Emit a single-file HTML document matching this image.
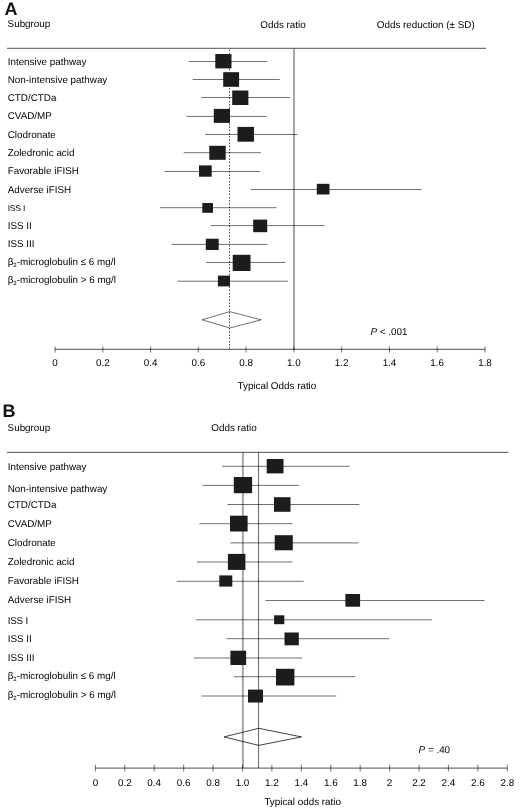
<!DOCTYPE html>
<html><head><meta charset="utf-8"><style>
html,body{margin:0;padding:0;background:#fff;}
svg{display:block;}
.t{}
svg{will-change:transform;}
text{font-family:"Liberation Sans",sans-serif;fill:#000;text-rendering:geometricPrecision;}
</style></head><body>
<svg width="520" height="812" viewBox="0 0 520 812">
<rect width="520" height="812" fill="#fff"/>
<g class="t">
<text x="4.6" y="14.7" font-size="18" font-weight="bold" style="fill:#111">A</text>
<text x="7.6" y="27.3" font-size="9.85">Subgroup</text>
<text x="260.3" y="27.9" font-size="9.85">Odds ratio</text>
<text x="376.8" y="28.0" font-size="9.85">Odds reduction (± SD)</text>
<line x1="7" y1="48.4" x2="486" y2="48.4" stroke="#000" stroke-opacity="0.545" stroke-width="1.2"/>
<text x="7.7" y="64.7" font-size="9.85">Intensive pathway</text>
<line x1="188.8" y1="61.5" x2="267.3" y2="61.5" stroke="#000" stroke-opacity="0.56" stroke-width="1"/>
<text x="7.7" y="82.9" font-size="9.85">Non-intensive pathway</text>
<line x1="192.7" y1="79.5" x2="279.8" y2="79.5" stroke="#000" stroke-opacity="0.56" stroke-width="1"/>
<text x="7.7" y="101.10000000000001" font-size="9.85">CTD/CTDa</text>
<line x1="201.2" y1="97.5" x2="289.7" y2="97.5" stroke="#000" stroke-opacity="0.56" stroke-width="1"/>
<text x="7.7" y="119.3" font-size="9.85">CVAD/MP</text>
<line x1="186.4" y1="116.4" x2="266.9" y2="116.4" stroke="#000" stroke-opacity="0.56" stroke-width="1"/>
<text x="7.7" y="137.5" font-size="9.85">Clodronate</text>
<line x1="205.2" y1="134.5" x2="297.5" y2="134.5" stroke="#000" stroke-opacity="0.56" stroke-width="1"/>
<text x="7.7" y="155.7" font-size="9.85">Zoledronic acid</text>
<line x1="183.7" y1="152.7" x2="261.0" y2="152.7" stroke="#000" stroke-opacity="0.56" stroke-width="1"/>
<text x="7.7" y="173.89999999999998" font-size="9.85">Favorable iFISH</text>
<line x1="164.8" y1="171.5" x2="260.2" y2="171.5" stroke="#000" stroke-opacity="0.56" stroke-width="1"/>
<text x="7.7" y="192.79999999999998" font-size="9.85">Adverse iFISH</text>
<line x1="250.8" y1="189.5" x2="421.7" y2="189.5" stroke="#000" stroke-opacity="0.56" stroke-width="1"/>
<text x="7.7" y="211.3" font-size="8.5" letter-spacing="-0.2">ISS I</text>
<line x1="160.0" y1="207.7" x2="276.4" y2="207.7" stroke="#000" stroke-opacity="0.56" stroke-width="1"/>
<text x="7.7" y="228.7" font-size="9.85">ISS II</text>
<line x1="210.6" y1="225.6" x2="324.6" y2="225.6" stroke="#000" stroke-opacity="0.56" stroke-width="1"/>
<text x="7.7" y="246.89999999999998" font-size="9.85">ISS III</text>
<line x1="171.3" y1="244.4" x2="267.7" y2="244.4" stroke="#000" stroke-opacity="0.56" stroke-width="1"/>
<text x="7.7" y="264.9" font-size="9.85">β<tspan font-size="6" dy="2">2</tspan><tspan dy="-2">-microglobulin ≤ 6 mg/l</tspan></text>
<line x1="206.3" y1="262.5" x2="285.5" y2="262.5" stroke="#000" stroke-opacity="0.56" stroke-width="1"/>
<text x="7.7" y="283.09999999999997" font-size="9.85">β<tspan font-size="6" dy="2">2</tspan><tspan dy="-2">-microglobulin &gt; 6 mg/l</tspan></text>
<line x1="177.5" y1="281.2" x2="287.9" y2="281.2" stroke="#000" stroke-opacity="0.56" stroke-width="1"/>
<line x1="294" y1="48.4" x2="294" y2="349.4" stroke="#000" stroke-opacity="0.349" stroke-width="2"/>
<line x1="229.5" y1="49" x2="229.5" y2="349.4" stroke="#000" stroke-opacity="0.686" stroke-width="1" stroke-dasharray="1.6,1.6" stroke-dashoffset="2.6"/>
<rect x="215.3" y="54.0" width="16.2" height="14.4" fill="#1c1c1c"/>
<rect x="223.2" y="72.2" width="15.9" height="14.6" fill="#1c1c1c"/>
<rect x="232.2" y="90.5" width="16.2" height="14.5" fill="#1c1c1c"/>
<rect x="213.8" y="108.9" width="16.2" height="14.0" fill="#1c1c1c"/>
<rect x="237.5" y="126.9" width="16.5" height="14.8" fill="#1c1c1c"/>
<rect x="209.3" y="145.8" width="16.4" height="14.0" fill="#1c1c1c"/>
<rect x="199.0" y="165.4" width="12.7" height="11.3" fill="#1c1c1c"/>
<rect x="316.8" y="183.8" width="12.7" height="10.7" fill="#1c1c1c"/>
<rect x="202.3" y="203.0" width="10.7" height="9.8" fill="#1c1c1c"/>
<rect x="253.2" y="219.6" width="14.0" height="12.6" fill="#1c1c1c"/>
<rect x="205.8" y="238.7" width="12.9" height="11.3" fill="#1c1c1c"/>
<rect x="232.7" y="254.8" width="17.8" height="16.2" fill="#1c1c1c"/>
<rect x="217.9" y="275.6" width="12.1" height="10.8" fill="#1c1c1c"/>
<polygon points="202.2,319.8 229.7,311.6 261.1,319.8 229.7,328" fill="none" stroke="#000" stroke-opacity="0.56" stroke-width="1"/>
<text x="370.5" y="334.8" font-size="9.85"><tspan font-style="italic">P</tspan> &lt; .001</text>
<line x1="55.0" y1="349.4" x2="485.0" y2="349.4" stroke="#000" stroke-opacity="0.56" stroke-width="1.2"/>
<line x1="55.0" y1="346.4" x2="55.0" y2="352.5" stroke="#000" stroke-opacity="0.56" stroke-width="1"/>
<text x="55.0" y="366" font-size="9.85" text-anchor="middle">0</text>
<line x1="102.8" y1="346.4" x2="102.8" y2="352.5" stroke="#000" stroke-opacity="0.56" stroke-width="1"/>
<text x="102.8" y="366" font-size="9.85" text-anchor="middle">0.2</text>
<line x1="150.6" y1="346.4" x2="150.6" y2="352.5" stroke="#000" stroke-opacity="0.56" stroke-width="1"/>
<text x="150.6" y="366" font-size="9.85" text-anchor="middle">0.4</text>
<line x1="198.3" y1="346.4" x2="198.3" y2="352.5" stroke="#000" stroke-opacity="0.56" stroke-width="1"/>
<text x="198.3" y="366" font-size="9.85" text-anchor="middle">0.6</text>
<line x1="246.1" y1="346.4" x2="246.1" y2="352.5" stroke="#000" stroke-opacity="0.56" stroke-width="1"/>
<text x="246.1" y="366" font-size="9.85" text-anchor="middle">0.8</text>
<line x1="293.9" y1="346.4" x2="293.9" y2="352.5" stroke="#000" stroke-opacity="0.56" stroke-width="1"/>
<text x="293.9" y="366" font-size="9.85" text-anchor="middle">1.0</text>
<line x1="341.7" y1="346.4" x2="341.7" y2="352.5" stroke="#000" stroke-opacity="0.56" stroke-width="1"/>
<text x="341.7" y="366" font-size="9.85" text-anchor="middle">1.2</text>
<line x1="389.5" y1="346.4" x2="389.5" y2="352.5" stroke="#000" stroke-opacity="0.56" stroke-width="1"/>
<text x="389.5" y="366" font-size="9.85" text-anchor="middle">1.4</text>
<line x1="437.2" y1="346.4" x2="437.2" y2="352.5" stroke="#000" stroke-opacity="0.56" stroke-width="1"/>
<text x="437.2" y="366" font-size="9.85" text-anchor="middle">1.6</text>
<line x1="485.0" y1="346.4" x2="485.0" y2="352.5" stroke="#000" stroke-opacity="0.56" stroke-width="1"/>
<text x="485.0" y="366" font-size="9.85" text-anchor="middle">1.8</text>
<text x="237.5" y="388.8" font-size="9.85">Typical Odds ratio</text>
<text x="2.4" y="416.6" font-size="18" font-weight="bold" style="fill:#111">B</text>
<text x="7.6" y="431.0" font-size="9.85">Subgroup</text>
<text x="211.3" y="431.3" font-size="9.85">Odds ratio</text>
<line x1="7" y1="452.3" x2="508.5" y2="452.3" stroke="#000" stroke-opacity="0.545" stroke-width="1.2"/>
<text x="7.7" y="469.7" font-size="9.85">Intensive pathway</text>
<line x1="222.2" y1="466.3" x2="349.7" y2="466.3" stroke="#000" stroke-opacity="0.56" stroke-width="1"/>
<text x="7.7" y="491.7" font-size="9.85">Non-intensive pathway</text>
<line x1="202.6" y1="485.4" x2="298.8" y2="485.4" stroke="#000" stroke-opacity="0.56" stroke-width="1"/>
<text x="7.7" y="507.95" font-size="9.85">CTD/CTDa</text>
<line x1="227.4" y1="504.5" x2="359.5" y2="504.5" stroke="#000" stroke-opacity="0.56" stroke-width="1"/>
<text x="7.7" y="527.2" font-size="9.85">CVAD/MP</text>
<line x1="199.4" y1="523.7" x2="292.7" y2="523.7" stroke="#000" stroke-opacity="0.56" stroke-width="1"/>
<text x="7.7" y="546.2" font-size="9.85">Clodronate</text>
<line x1="230.4" y1="542.9" x2="358.5" y2="542.9" stroke="#000" stroke-opacity="0.56" stroke-width="1"/>
<text x="7.7" y="565.2" font-size="9.85">Zoledronic acid</text>
<line x1="196.9" y1="562.0" x2="292.5" y2="562.0" stroke="#000" stroke-opacity="0.56" stroke-width="1"/>
<text x="7.7" y="584.2" font-size="9.85">Favorable iFISH</text>
<line x1="176.6" y1="581.3" x2="303.7" y2="581.3" stroke="#000" stroke-opacity="0.56" stroke-width="1"/>
<text x="7.7" y="603.45" font-size="9.85">Adverse iFISH</text>
<line x1="265.5" y1="600.5" x2="484.5" y2="600.5" stroke="#000" stroke-opacity="0.56" stroke-width="1"/>
<text x="7.7" y="623.8000000000001" font-size="9.85" letter-spacing="-0.2">ISS I</text>
<line x1="195.8" y1="619.8" x2="432.0" y2="619.8" stroke="#000" stroke-opacity="0.56" stroke-width="1"/>
<text x="7.7" y="642.3000000000001" font-size="9.85">ISS II</text>
<line x1="226.5" y1="638.7" x2="389.2" y2="638.7" stroke="#000" stroke-opacity="0.56" stroke-width="1"/>
<text x="7.7" y="660.95" font-size="9.85">ISS III</text>
<line x1="193.8" y1="658.0" x2="302.2" y2="658.0" stroke="#000" stroke-opacity="0.56" stroke-width="1"/>
<text x="7.7" y="679.2" font-size="9.85">β<tspan font-size="6" dy="2">2</tspan><tspan dy="-2">-microglobulin ≤ 6 mg/l</tspan></text>
<line x1="233.8" y1="676.7" x2="355.3" y2="676.7" stroke="#000" stroke-opacity="0.56" stroke-width="1"/>
<text x="7.7" y="698.2" font-size="9.85">β<tspan font-size="6" dy="2">2</tspan><tspan dy="-2">-microglobulin &gt; 6 mg/l</tspan></text>
<line x1="201.5" y1="696.0" x2="336.2" y2="696.0" stroke="#000" stroke-opacity="0.56" stroke-width="1"/>
<line x1="242.9" y1="452.3" x2="242.9" y2="768.1" stroke="#000" stroke-opacity="0.349" stroke-width="2"/>
<line x1="258.5" y1="452.3" x2="258.5" y2="768.1" stroke="#000" stroke-opacity="0.561" stroke-width="1.1"/>
<rect x="266.7" y="459.0" width="16.8" height="14.4" fill="#1c1c1c"/>
<rect x="233.8" y="477.0" width="18.3" height="16.2" fill="#1c1c1c"/>
<rect x="274.0" y="497.2" width="16.5" height="14.6" fill="#1c1c1c"/>
<rect x="230.0" y="515.7" width="17.6" height="15.8" fill="#1c1c1c"/>
<rect x="274.7" y="535.2" width="18.1" height="15.1" fill="#1c1c1c"/>
<rect x="227.9" y="553.9" width="17.5" height="16.0" fill="#1c1c1c"/>
<rect x="219.3" y="575.4" width="13.0" height="11.2" fill="#1c1c1c"/>
<rect x="345.4" y="594.0" width="14.7" height="12.7" fill="#1c1c1c"/>
<rect x="274.1" y="615.3" width="10.2" height="8.9" fill="#1c1c1c"/>
<rect x="284.5" y="632.5" width="14.3" height="12.8" fill="#1c1c1c"/>
<rect x="230.4" y="650.7" width="15.7" height="14.3" fill="#1c1c1c"/>
<rect x="276.0" y="668.8" width="18.4" height="16.7" fill="#1c1c1c"/>
<rect x="248.0" y="689.6" width="15.0" height="12.9" fill="#1c1c1c"/>
<polygon points="224.1,736.9 258.7,728.3 301.5,736.9 258.7,745.4" fill="none" stroke="#000" stroke-opacity="0.733" stroke-width="1"/>
<text x="418.6" y="752.7" font-size="9.85"><tspan font-style="italic">P</tspan> = .40</text>
<line x1="95.4" y1="768.1" x2="507.3" y2="768.1" stroke="#000" stroke-opacity="0.56" stroke-width="1.2"/>
<line x1="95.4" y1="764.8" x2="95.4" y2="771.4" stroke="#000" stroke-opacity="0.56" stroke-width="1"/>
<text x="95.4" y="785.5" font-size="9.85" text-anchor="middle">0</text>
<line x1="124.8" y1="764.8" x2="124.8" y2="771.4" stroke="#000" stroke-opacity="0.56" stroke-width="1"/>
<text x="124.8" y="785.5" font-size="9.85" text-anchor="middle">0.2</text>
<line x1="154.2" y1="764.8" x2="154.2" y2="771.4" stroke="#000" stroke-opacity="0.56" stroke-width="1"/>
<text x="154.2" y="785.5" font-size="9.85" text-anchor="middle">0.4</text>
<line x1="183.7" y1="764.8" x2="183.7" y2="771.4" stroke="#000" stroke-opacity="0.56" stroke-width="1"/>
<text x="183.7" y="785.5" font-size="9.85" text-anchor="middle">0.6</text>
<line x1="213.1" y1="764.8" x2="213.1" y2="771.4" stroke="#000" stroke-opacity="0.56" stroke-width="1"/>
<text x="213.1" y="785.5" font-size="9.85" text-anchor="middle">0.8</text>
<line x1="242.5" y1="764.8" x2="242.5" y2="771.4" stroke="#000" stroke-opacity="0.56" stroke-width="1"/>
<text x="242.5" y="785.5" font-size="9.85" text-anchor="middle">1.0</text>
<line x1="271.9" y1="764.8" x2="271.9" y2="771.4" stroke="#000" stroke-opacity="0.56" stroke-width="1"/>
<text x="271.9" y="785.5" font-size="9.85" text-anchor="middle">1.2</text>
<line x1="301.3" y1="764.8" x2="301.3" y2="771.4" stroke="#000" stroke-opacity="0.56" stroke-width="1"/>
<text x="301.3" y="785.5" font-size="9.85" text-anchor="middle">1.4</text>
<line x1="330.8" y1="764.8" x2="330.8" y2="771.4" stroke="#000" stroke-opacity="0.56" stroke-width="1"/>
<text x="330.8" y="785.5" font-size="9.85" text-anchor="middle">1.6</text>
<line x1="360.2" y1="764.8" x2="360.2" y2="771.4" stroke="#000" stroke-opacity="0.56" stroke-width="1"/>
<text x="360.2" y="785.5" font-size="9.85" text-anchor="middle">1.8</text>
<line x1="389.6" y1="764.8" x2="389.6" y2="771.4" stroke="#000" stroke-opacity="0.56" stroke-width="1"/>
<text x="389.6" y="785.5" font-size="9.85" text-anchor="middle">2</text>
<line x1="419.0" y1="764.8" x2="419.0" y2="771.4" stroke="#000" stroke-opacity="0.56" stroke-width="1"/>
<text x="419.0" y="785.5" font-size="9.85" text-anchor="middle">2.2</text>
<line x1="448.4" y1="764.8" x2="448.4" y2="771.4" stroke="#000" stroke-opacity="0.56" stroke-width="1"/>
<text x="448.4" y="785.5" font-size="9.85" text-anchor="middle">2.4</text>
<line x1="477.9" y1="764.8" x2="477.9" y2="771.4" stroke="#000" stroke-opacity="0.56" stroke-width="1"/>
<text x="477.9" y="785.5" font-size="9.85" text-anchor="middle">2.6</text>
<line x1="507.3" y1="764.8" x2="507.3" y2="771.4" stroke="#000" stroke-opacity="0.56" stroke-width="1"/>
<text x="507.3" y="785.5" font-size="9.85" text-anchor="middle">2.8</text>
<text x="264.4" y="805.3" font-size="9.85">Typical odds ratio</text>
</g></svg></body></html>
